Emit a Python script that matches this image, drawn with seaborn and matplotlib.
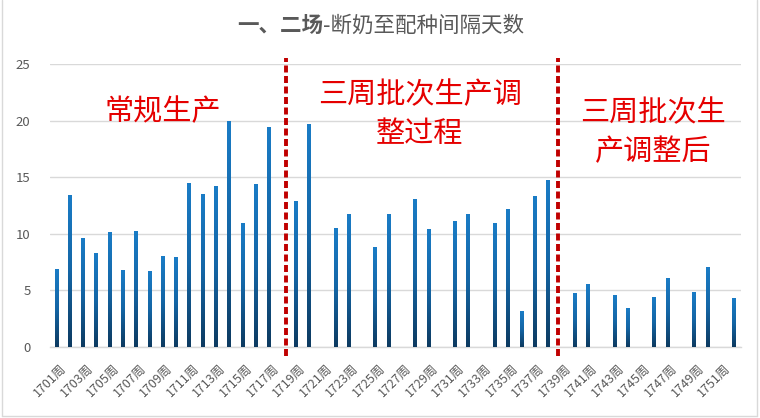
import numpy as np
import pandas as pd
import matplotlib
matplotlib.use("Agg")
import matplotlib.pyplot as plt
import matplotlib.transforms as mtransforms
import seaborn as sns
from matplotlib.colors import LinearSegmentedColormap
from matplotlib.lines import Line2D

# ---------------- data ----------------
weeks = [f"{w}周" for w in range(1701, 1753)]
values = [
    6.9, 13.4, 9.6, 8.3, 10.1, 6.8, 10.2, 6.7, 8.0, 7.9,      # 1701-1710
    14.5, 13.5, 14.2, 20.0, 10.9, 14.4, 19.4, np.nan, 12.9, 19.7,  # 1711-1720
    np.nan, 10.5, 11.7, np.nan, 8.8, 11.7, np.nan, 13.1, 10.4, np.nan,  # 1721-1730
    11.1, 11.7, np.nan, 10.9, 12.2, 3.1, 13.3, 14.7, np.nan, 4.7,  # 1731-1740
    5.5, np.nan, 4.6, 3.4, np.nan, 4.4, 6.1, np.nan, 4.8, 7.0,   # 1741-1750
    np.nan, 4.3,                                                # 1751-1752
]
title_bold = "一、二场"
title_rest = "-断奶至配种间隔天数"
phase_lines = [17.25, 37.75]
phase_texts = [
    (["常规生产"], 163, [112]),
    (["三周批次生产调", "整过程"], 420, [95, 134]),
    (["三周批次生", "产调整后"], 653, [113, 152]),
]

df = pd.DataFrame({"week": weeks, "days": values})

# ---------------- style ----------------
sns.set_theme(style="white")
plt.rcParams["font.family"] = ["Noto Sans CJK SC", "DejaVu Sans"]

W, H = 760, 418
fig = plt.figure(figsize=(W / 100, H / 100), dpi=100)
ax = fig.add_axes([50 / W, 1 - 346.7 / H, 690.7 / W, (346.7 - 64.3) / H])

sns.barplot(data=df, x="week", y="days", order=weeks, color="#1878c0",
            width=0.3, ax=ax, zorder=3)

# gradient fill per bar
cmap = LinearSegmentedColormap.from_list("g", ["#0d3a60", "#1466a6", "#1a7cc6"])
grad = np.linspace(0, 1, 256).reshape(-1, 1)
for p in ax.patches:
    x0, y0 = p.get_x(), p.get_y()
    w, h = p.get_width(), p.get_height()
    if not np.isfinite(h) or h == 0:
        continue
    ax.imshow(grad, cmap=cmap, aspect="auto", origin="lower",
              extent=[x0, x0 + w, y0, y0 + h], zorder=3)
    p.set_visible(False)

ax.set_xlim(-0.5, len(weeks) - 0.5)
ax.set_ylim(0, 25)
ax.set_yticks(range(0, 26, 5))
ax.yaxis.grid(True, color="#d9d9d9", linewidth=1.0, zorder=0)
ax.set_axisbelow(True)
for s in ["top", "right", "left"]:
    ax.spines[s].set_visible(False)
ax.spines["bottom"].set_color("#d9d9d9")
ax.spines["bottom"].set_linewidth(1.0)
ax.set_xlabel("")
ax.set_ylabel("")

ax.tick_params(axis="y", length=0, pad=14, labelsize=9.5, labelcolor="#595959")
ax.set_xticks(range(0, len(weeks), 2))
ax.set_xticklabels([])
ax.tick_params(axis="x", length=0)

# rotated category labels drawn as text at tick positions
base = mtransforms.blended_transform_factory(ax.transData, ax.transAxes)
offset = mtransforms.ScaledTranslation(3 / 100, -15 / 100, fig.dpi_scale_trans)
for i in range(0, len(weeks), 2):
    ax.text(i, 0, weeks[i], transform=base + offset, rotation=45.0,
            rotation_mode="anchor", ha="right", va="top", fontsize=9,
            color="#595959", clip_on=False)

# dashed separators
for xv in phase_lines:
    ax.add_line(Line2D([xv, xv], [-0.82, 25.57], color="#c00000", lw=2.8,
                       ls=(0, (1.8, 0.9)), clip_on=False, zorder=5))

# phase annotations
for lines, cx, ys in phase_texts:
    for line, cy in zip(lines, ys):
        fig.text(cx / W, 1 - cy / H, line, ha="center", va="center",
                 fontsize=21, color="#e50000")

# title
fig.text(323 / W, 1 - 26 / H, title_bold, ha="right", va="center",
         fontsize=15.5, fontweight="bold", color="#595959")
fig.text(323 / W, 1 - 26 / H, title_rest, ha="left", va="center",
         fontsize=15.5, color="#595959")

# chart border (left, right, bottom)
bc = "#d9d9d9"
fig.add_artist(Line2D([1.5 / W, 1.5 / W], [1 - 416 / H, 1], color=bc, lw=1))
fig.add_artist(Line2D([756.5 / W, 756.5 / W], [1 - 416 / H, 1], color=bc, lw=1))
fig.add_artist(Line2D([1.5 / W, 756.5 / W], [1 - 416 / H, 1 - 416 / H], color=bc, lw=1))

fig.savefig("out.png", dpi=100)
